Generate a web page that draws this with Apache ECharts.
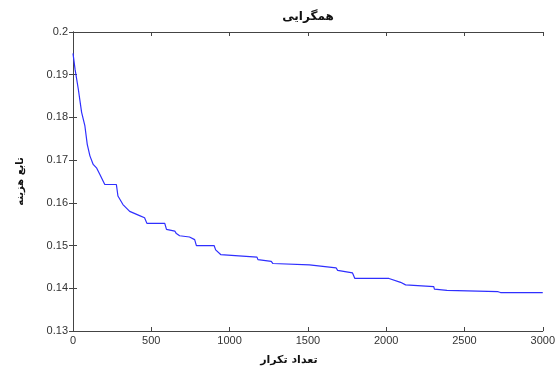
<!DOCTYPE html>
<html>
<head>
<meta charset="utf-8">
<script src="https://cdn.jsdelivr.net/npm/echarts@6/dist/echarts.min.js"></script>
<style>
html,body{margin:0;padding:0;background:#fff;}
#chart{width:558px;height:373px;}
</style>
</head>
<body>
<div id="chart"></div>
<script>
// همگرایی - convergence curve
var iters = [0, 13, 34, 55, 76, 91, 108, 129, 150, 171, 203, 277, 287, 319, 362, 425, 457, 472, 586, 597,
             650, 660, 681, 744, 777, 788, 901, 911, 943, 1175, 1181, 1266, 1277, 1510, 1520, 1680, 1690,
             1785, 1800, 2018, 2092, 2124, 2304, 2308, 2388, 2398, 2715, 2730, 3000]
var cost = [0.195, 0.1913, 0.1866, 0.1812, 0.178, 0.1737, 0.171, 0.169, 0.1682, 0.1667, 0.1643, 0.1643,
            0.1616, 0.1596, 0.158, 0.157, 0.1565, 0.1552, 0.1552, 0.1538, 0.1534, 0.1528, 0.1523, 0.152,
            0.1514, 0.150, 0.150, 0.149, 0.1479, 0.1473, 0.1467, 0.1463, 0.1458, 0.1455, 0.1452, 0.1448,
            0.1442, 0.1436, 0.1423, 0.1423, 0.1414, 0.1408, 0.1404, 0.1398, 0.1395, 0.1392, 0.1392, 0.139, 0.139]

var pts = []
iters.forEach(function(val, i){
    pts.push([val, cost[i]])
})

var txt = '#333'
var lineCol = '#444'
var font = 'Liberation Sans'

var myChart = echarts.init(document.getElementById('chart'))
myChart.setOption({
    backgroundColor: '#fff',
    animation: false,
    title: {
        text: 'همگرایی',
        left: 303, top: 6, textAlign: 'center',
        textStyle: {fontSize: 12, fontWeight: 'bold', color: '#111', fontFamily: 'DejaVu Sans'}
    },
    grid: {left: 73, right: 12, top: 32, bottom: 42},
    xAxis: [
        {
            type: 'value', min: 0, max: 3000, interval: 500,
            name: 'تعداد تکرار', nameLocation: 'middle', nameGap: 24,
            nameTextStyle: {fontSize: 11, fontWeight: 'bold', color: '#111', fontFamily: 'DejaVu Sans', padding: [0, 38, 0, 0]},
            axisLine: {lineStyle: {color: lineCol, width: 1}},
            axisTick: {inside: true, length: 4, lineStyle: {color: lineCol}},
            axisLabel: {
                fontSize: 11, color: txt, fontFamily: font, margin: 4,
                formatter: function(v){ return String(v) }
            },
            splitLine: {show: false}
        },
        {
            type: 'value', min: 0, max: 3000, interval: 500, position: 'top',
            axisLine: {show: true, lineStyle: {color: lineCol, width: 1}},
            axisTick: {show: true, inside: true, length: 4, lineStyle: {color: lineCol}},
            axisLabel: {show: false},
            splitLine: {show: false}
        }
    ],
    yAxis: [
        {
            type: 'value', min: 0.13, max: 0.2, interval: 0.01,
            name: 'تابع هزینه', nameLocation: 'middle', nameGap: 48,
            nameTextStyle: {fontSize: 10, fontWeight: 'bold', color: '#111', fontFamily: 'DejaVu Sans'},
            axisLine: {show: true, lineStyle: {color: lineCol, width: 1}},
            axisTick: {show: true, inside: true, length: 4, lineStyle: {color: lineCol}},
            axisLabel: {
                fontSize: 11, color: txt, fontFamily: font, margin: 5,
                formatter: function(v){ return String(parseFloat(v.toFixed(2))) }
            },
            splitLine: {show: false}
        },
        {
            type: 'value', min: 0.13, max: 0.2, interval: 0.01, position: 'right',
            axisLine: {show: true, lineStyle: {color: lineCol, width: 1}},
            axisTick: {show: true, inside: true, length: 4, lineStyle: {color: lineCol}},
            axisLabel: {show: false},
            splitLine: {show: false}
        }
    ],
    series: [
        {
            type: 'line',
            data: pts,
            showSymbol: false,
            lineStyle: {color: '#2f2fff', width: 1.2}
        }
    ]
}, true)
</script>
</body>
</html>
